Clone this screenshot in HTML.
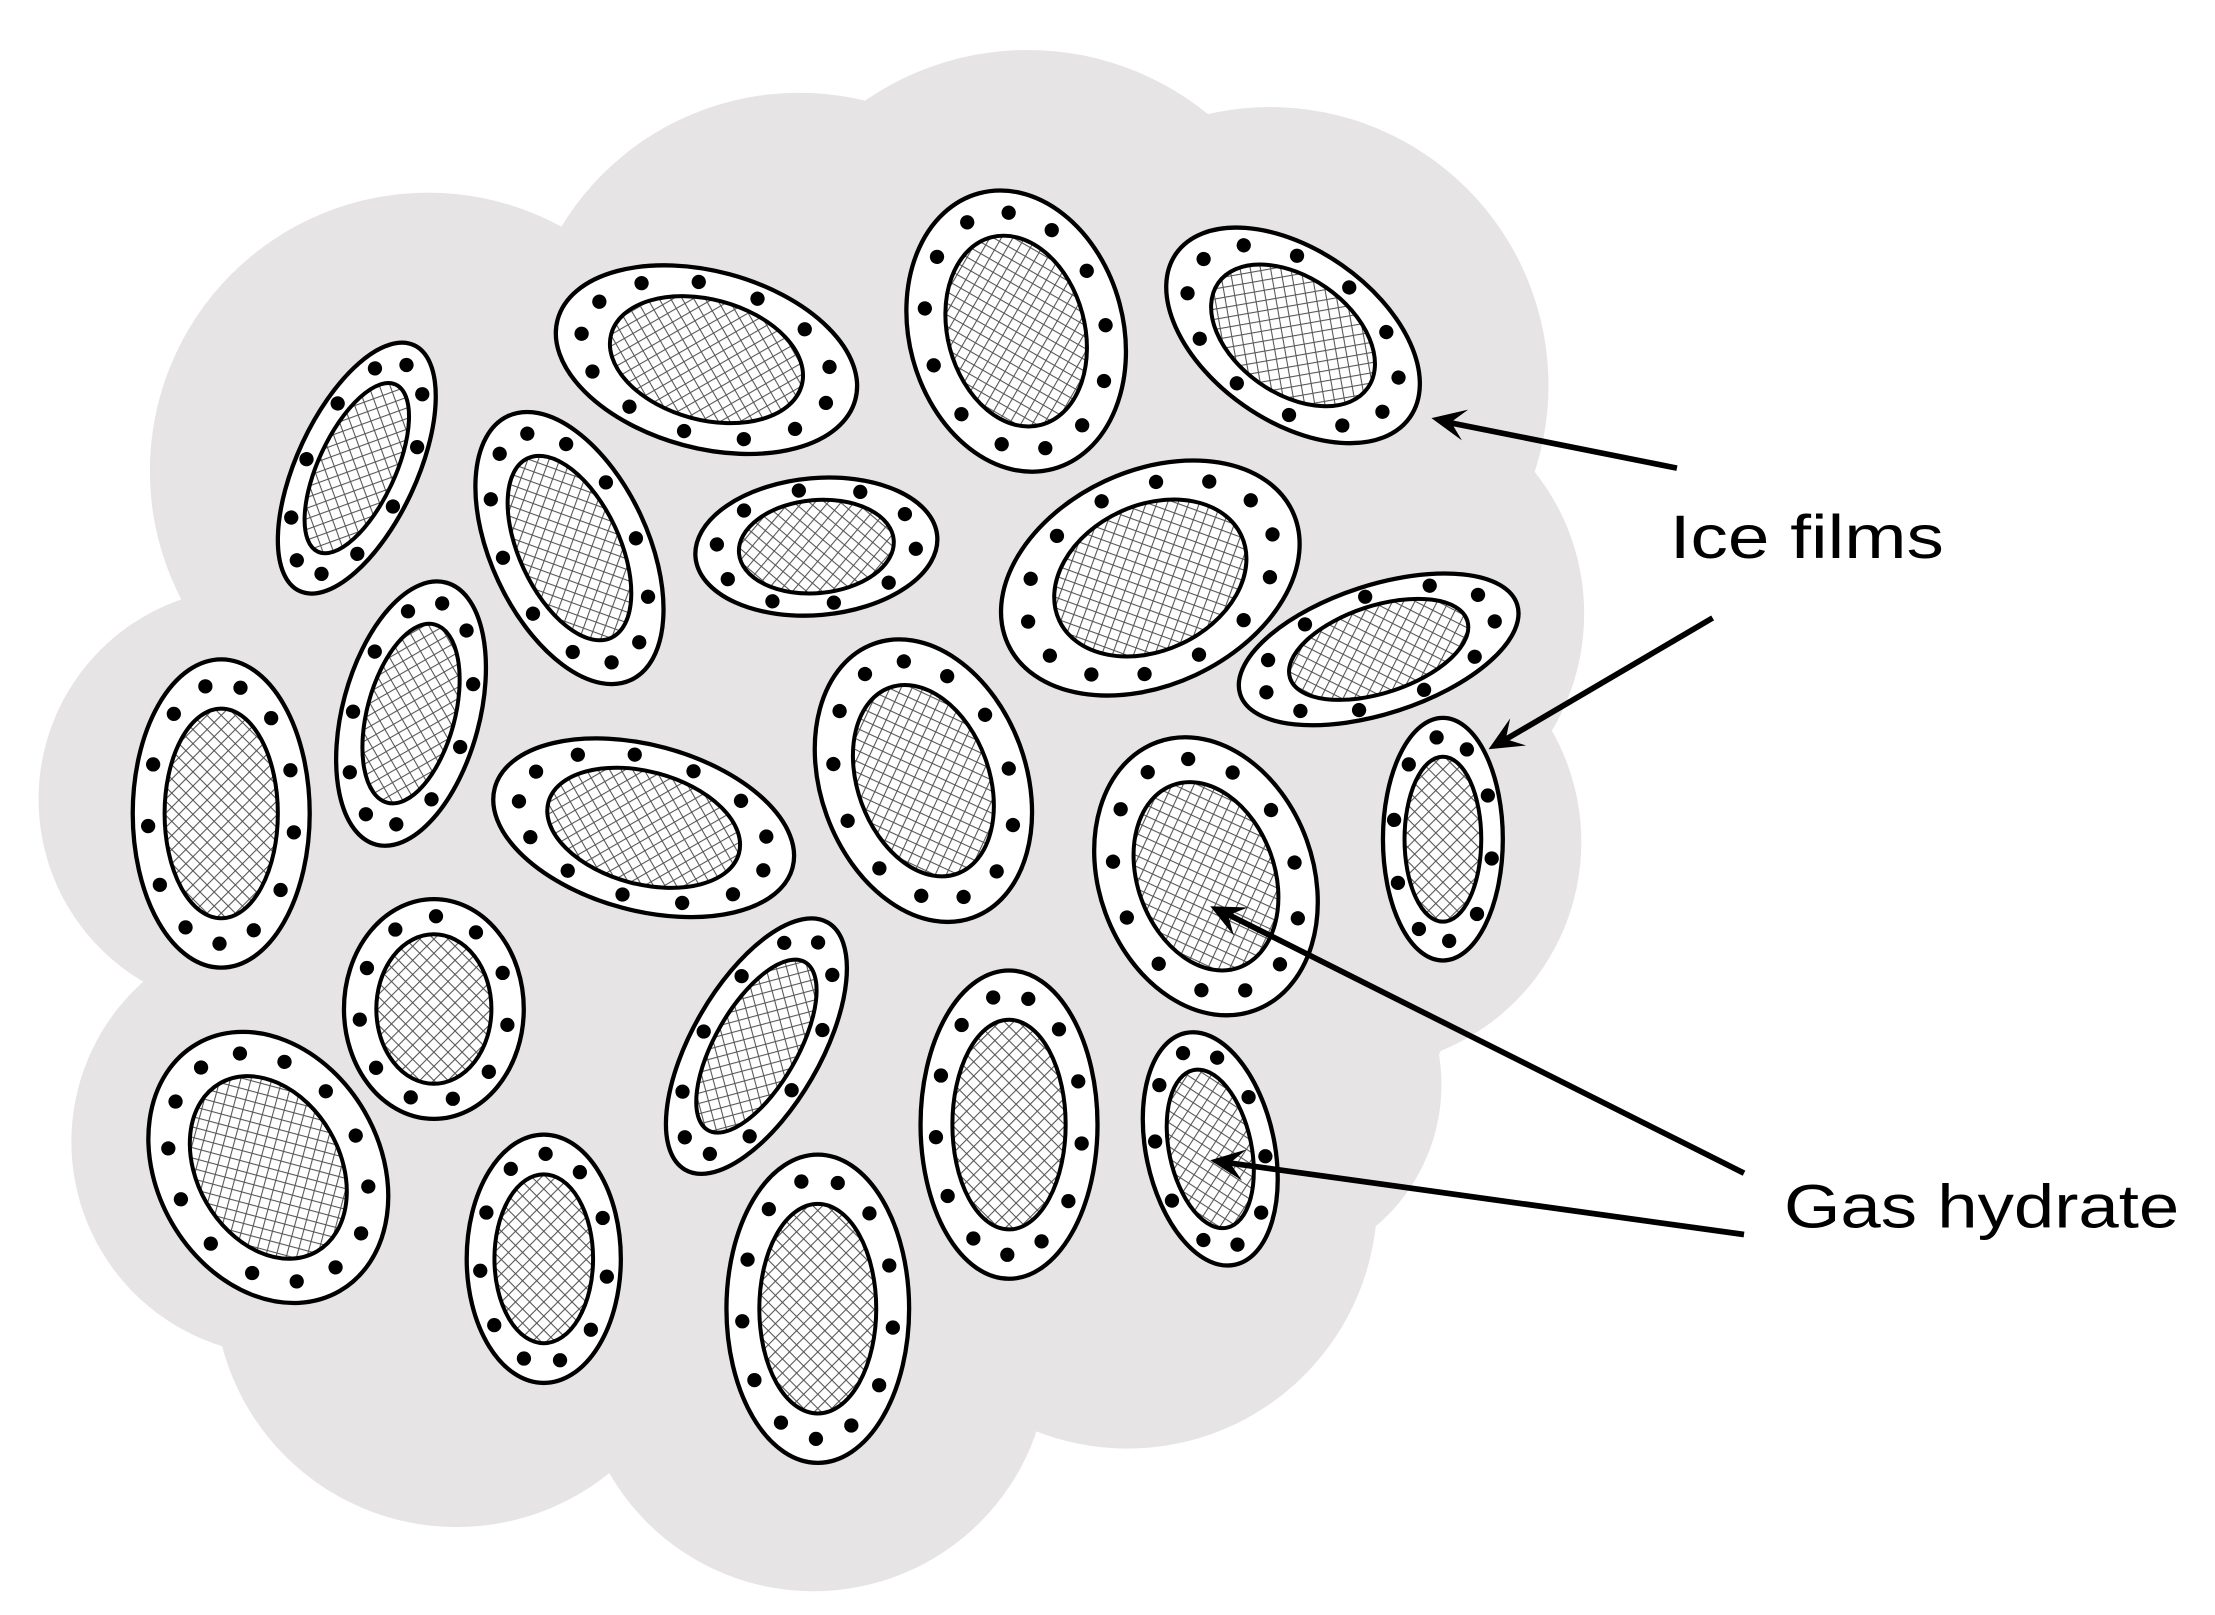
<!DOCTYPE html>
<html><head><meta charset="utf-8"><style>html,body{margin:0;padding:0;background:#fff}svg{display:block}</style></head>
<body>
<svg id="s" width="2215" height="1615" viewBox="0 0 1552 1131.6" xmlns="http://www.w3.org/2000/svg">
<defs>
<pattern id="h" width="7" height="7" patternUnits="userSpaceOnUse" patternTransform="rotate(45)">
<rect width="7" height="7" fill="#fff"/>
<line x1="0" y1="0" x2="7" y2="0" stroke="#555" stroke-width="1.5"/>
<line x1="0" y1="0" x2="0" y2="7" stroke="#555" stroke-width="1.5"/>
</pattern>
</defs>
<g fill="#e7e4e5" id="cloud">
<circle cx="300" cy="330" r="195"/>
<circle cx="560" cy="260" r="195"/>
<circle cx="720" cy="235" r="200"/>
<circle cx="890" cy="270" r="195"/>
<circle cx="950" cy="430" r="160"/>
<circle cx="950" cy="590" r="158"/>
<circle cx="175" cy="560" r="148"/>
<circle cx="200" cy="800" r="150"/>
<circle cx="320" cy="900" r="170"/>
<circle cx="570" cy="950" r="165"/>
<circle cx="790" cy="840" r="175"/>
<circle cx="520" cy="600" r="320"/>
<circle cx="720" cy="600" r="320"/>
<circle cx="880" cy="760" r="130"/>
</g>
<g id="e"></g>
<g stroke="#000" stroke-width="4" fill="none">
<line x1="1175" y1="328" x2="1010" y2="295"/>
<line x1="1200" y1="433" x2="1050" y2="521"/>
<line x1="1222" y1="822" x2="855" y2="638"/>
<line x1="1222" y1="865" x2="855" y2="814"/>
</g>
<g id="ah" fill="#000"></g>
<text x="1170" y="391" font-family="Liberation Sans, sans-serif" font-size="43" textLength="192" lengthAdjust="spacingAndGlyphs">Ice films</text>
<text x="1250" y="860" font-family="Liberation Sans, sans-serif" font-size="43" textLength="277" lengthAdjust="spacingAndGlyphs">Gas hydrate</text>
</svg>
<script>
var E=[[250,328,42,95,25],[495,252,108,62,15],[712,232,75,100,-15],[906,235,100,60,35],[399,384,55,102,-25],[572,383,85,48,-5],[806,405,110,75,-25],[966,455,102,45,-18],[288,500,48,95,15],[155,570,62,108,0],[451,580,108,58,15],[647,547,72,102,-20],[845,614,75,100,-20],[1011,588,42,85,0],[304,707,63,77,0],[530,733,45,100,30],[707,788,62,108,0],[188,818,78,100,-30],[848,805,45,83,-12],[381,882,54,87,0],[573,917,64,108,0]];
var g=document.getElementById("e"),h="";
E.forEach(function(e){var cx=e[0],cy=e[1],rx=e[2],ry=e[3],r=e[4];
h+='<g transform="translate('+cx+' '+cy+') rotate('+r+')">';
h+='<ellipse rx="'+rx+'" ry="'+ry+'" fill="#fff" stroke="#000" stroke-width="3"/>';
h+='<ellipse rx="'+(rx*0.64)+'" ry="'+(ry*0.68)+'" fill="url(#h)" stroke="#000" stroke-width="2.8"/>';
var n=Math.max(8,Math.round((rx+ry)/13));
for(var i=0;i<n;i++){var t=2*Math.PI*(i+0.3)/n;h+='<circle cx="'+(Math.cos(t)*rx*0.83).toFixed(1)+'" cy="'+(Math.sin(t)*ry*0.845).toFixed(1)+'" r="5" fill="#000"/>';}
h+='</g>';});
g.innerHTML=h;
var A=[[1175,328,1003,293],[1200,433,1043,525],[1222,822,848,635],[1222,865,848,813]],ah="";
A.forEach(function(a){var dx=a[2]-a[0],dy=a[3]-a[1],L=Math.hypot(dx,dy),ux=dx/L,uy=dy/L,px=-uy,py=ux,x=a[2],y=a[3];
var bx=x-ux*24,by=y-uy*24;
ah+='<polygon points="'+x+','+y+' '+(bx+px*11)+','+(by+py*11)+' '+(x-ux*14)+','+(y-uy*14)+' '+(bx-px*11)+','+(by-py*11)+'"/>';});
document.getElementById("ah").innerHTML=ah;
</script>
</body></html>
